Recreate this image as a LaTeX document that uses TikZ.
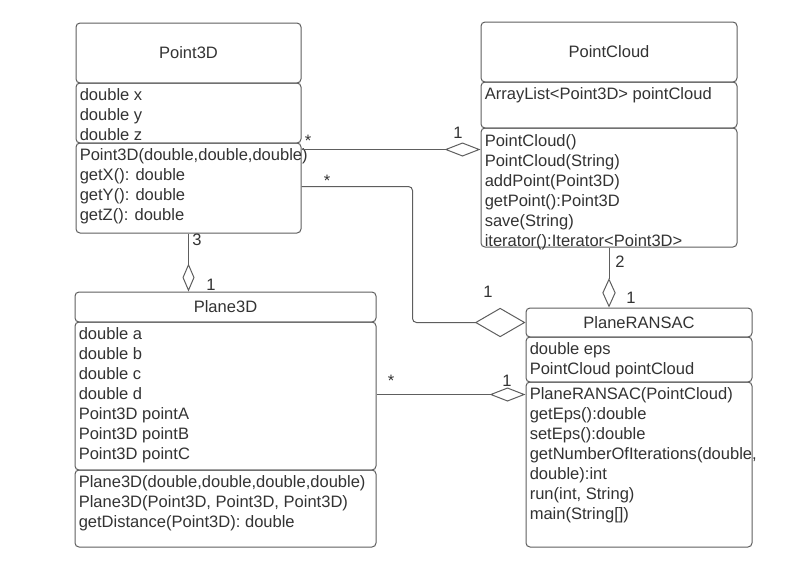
\documentclass[tikz,border=0pt]{standalone}
\usepackage{fontspec}
\setmainfont{Liberation Sans}
\usetikzlibrary{arrows.meta, calc, fit}
\definecolor{umltext}{HTML}{333333}
\definecolor{umlline}{HTML}{5E5E5E}
\newcommand{\umlfont}{\fontsize{12.4}{15}\selectfont}

\begin{document}
\begin{tikzpicture}[x=0.75pt, y=-0.75pt,
    every node/.style={font=\umlfont, text=umltext},
    comp/.style={draw=umlline, line width=0.75pt, rounded corners=3pt, inner sep=0pt},
    title/.style={inner sep=0pt},
    txt/.style={anchor=north west, inner sep=0pt, align=left},
    mult/.style={inner sep=0pt},
    assoc/.style={draw=umlline, line width=0.75pt},
    agg/.style 2 args={assoc, -{Diamond[open, length=#1, width=#2]}}
  ]
  \useasboundingbox[fill=white] (0,0) rectangle (793,587);

  % Point3D
  \node[comp, fit={(76,23) (301,83)}] (p3head) {};
  \node[comp, fit={(76,83) (301,143)}] (p3attr) {};
  \node[comp, fit={(76,143) (301,233)}] (p3meth) {};
  \node[title] (p3title) at (p3head.center) {Point3D};
  \node[txt] (p3attrtxt) at ($(p3attr.north west)+(4,4)$)
    {\strut double x\\double y\\double z};
  \node[txt] (p3methtxt) at ($(p3meth.north west)+(4,4)$)
    {\strut Point3D(double,double,double)\\getX(): double\\getY(): double\\getZ(): double};

  % PointCloud
  \node[comp, fit={(481,22) (737,82)}] (pchead) {};
  \node[comp, fit={(481,82) (737,128)}] (pcattr) {};
  \node[comp, fit={(481,128) (737,247)}] (pcmeth) {};
  \node[title] (pctitle) at (pchead.center) {PointCloud};
  \node[txt] (pcattrtxt) at ($(pcattr.north west)+(4,4)$)
    {\strut ArrayList<Point3D> pointCloud};
  \node[txt] (pcmethtxt) at ($(pcmeth.north west)+(4,5)$)
    {\strut PointCloud()\\PointCloud(String)\\addPoint(Point3D)\\getPoint():Point3D\\save(String)\\iterator():Iterator<Point3D>};

  % Plane3D
  \node[comp, fit={(75,292) (376,322)}] (plhead) {};
  \node[comp, fit={(75,322) (376,470)}] (plattr) {};
  \node[comp, fit={(75,470) (376,547)}] (plmeth) {};
  \node[title] (pltitle) at (plhead.center) {Plane3D};
  \node[txt] (plattrtxt) at ($(plattr.north west)+(4,4)$)
    {\strut double a\\double b\\double c\\double d\\Point3D pointA\\Point3D pointB\\Point3D pointC};
  \node[txt] (plmethtxt) at ($(plmeth.north west)+(4,4)$)
    {\strut Plane3D(double,double,double,double)\\Plane3D(Point3D, Point3D, Point3D)\\getDistance(Point3D): double};

  % PlaneRANSAC
  \node[comp, fit={(526,308) (752,337)}] (prhead) {};
  \node[comp, fit={(526,337) (752,382)}] (prattr) {};
  \node[comp, fit={(526,382) (752,547)}] (prmeth) {};
  \node[title] (prtitle) at (prhead.center) {PlaneRANSAC};
  \node[txt] (prattrtxt) at ($(prattr.north west)+(4,4)$)
    {\strut double eps\\PointCloud pointCloud};
  \node[txt] (prmethtxt) at ($(prmeth.north west)+(4,4)$)
    {\strut PlaneRANSAC(PointCloud)\\getEps():double\\setEps():double\\getNumberOfIterations(double,\\double):int\\run(int, String)\\main(String[])};

  % aggregations
  \coordinate (c1) at ($(p3meth.north east)+(0,7)$);
  \draw[agg={27pt}{10.5pt}] (c1) -- (c1 -| pcmeth.west);
  \coordinate (c2) at ($(p3meth.north east)+(0,44)$);
  \coordinate (c2bend) at ($(prhead.west)+(-113,0)$);
  \draw[agg={38pt}{22pt}, rounded corners=3pt] (c2) -| (c2bend) -- (prhead.west);
  \draw[agg={21pt}{9pt}] (p3meth.south) -- (p3meth.south |- plhead.north);
  \draw[agg={22pt}{10pt}] (pcmeth.south) -- (pcmeth.south |- prhead.north);
  \coordinate (c5) at ($(plattr.north east)+(0,73)$);
  \draw[agg={27pt}{10.5pt}] (c5) -- (c5 -| prmeth.west);

  % multiplicities
  \node[mult] (m1a) at (308,141) {*};
  \node[mult] (m1b) at (458,133) {1};
  \node[mult] (m2a) at (327,181) {*};
  \node[mult] (m2b) at (488,292) {1};
  \node[mult] (m3a) at (197,240) {3};
  \node[mult] (m3b) at (211,285) {1};
  \node[mult] (m4a) at (620,262) {2};
  \node[mult] (m4b) at (631,298) {1};
  \node[mult] (m5a) at (391,381) {*};
  \node[mult] (m5b) at (507,381) {1};
\end{tikzpicture}
\end{document}
